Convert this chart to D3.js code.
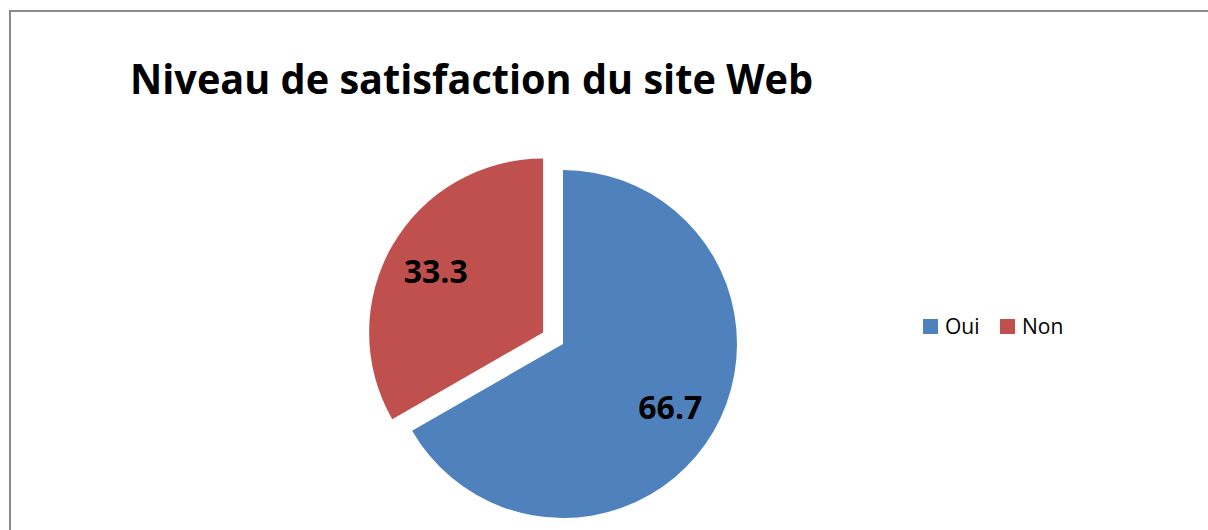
<!DOCTYPE html>
<html>
<head>
<meta charset="utf-8">
<script src="https://cdn.jsdelivr.net/npm/d3@7"></script>
<style>
  body { margin: 0; background: #fff; }
  svg { display: block; font-family: "Open Sans", sans-serif; }
</style>
</head>
<body>
<svg id="chart" width="1208" height="530"></svg>
<script>
var categories = ['Oui', 'Non'];
var values = [66.7, 33.3];
var labels = ['66.7', '33.3'];
var colors = ['#4F81BD', '#C0504D'];
var exploded = [0, 1];

const WIDTH = 1208;
const HEIGHT = 530;
const CX = 563;
const CY = 344;
const RADIUS = 174;
const EXPLODE = 23;

var svg = d3.select('#chart');

// chart frame, cut off at the right and bottom like the picture
svg.append('rect')
    .attr('x', 10)
    .attr('y', 11)
    .attr('width', WIDTH)
    .attr('height', HEIGHT)
    .attr('fill', 'none')
    .attr('stroke', '#8a8a8a')
    .attr('stroke-width', 2);

svg.append('text')
    .attr('x', 130)
    .attr('y', 94)
    .attr('font-size', 41)
    .attr('font-weight', 'bold')
    .attr('textLength', 683)
    .attr('lengthAdjust', 'spacingAndGlyphs')
    .text('Niveau de satisfaction du site Web');

var pie = d3.pie().sort(null).value(function (d) { return d; });
var arcs = pie(values);

var arc = d3.arc().innerRadius(0).outerRadius(RADIUS);
var labelArc = d3.arc().innerRadius(124).outerRadius(124);

var offset = function (d, i) {
    var a = (d.startAngle + d.endAngle) / 2;
    var dist = exploded[i] ? EXPLODE : 0;
    return [CX + Math.sin(a) * dist, CY - Math.cos(a) * dist];
};

var slices = svg.selectAll('g.slice')
    .data(arcs)
    .enter()
    .append('g')
    .classed('slice', true)
    .attr('transform', function (d, i) {
        var p = offset(d, i);
        return 'translate(' + p[0] + ',' + p[1] + ')';
    });

slices.append('path')
    .attr('d', arc)
    .attr('fill', function (d, i) { return colors[i]; });

slices.append('text')
    .attr('transform', function (d) {
        return 'translate(' + labelArc.centroid(d) + ')';
    })
    .attr('text-anchor', 'middle')
    .attr('dy', '0.4em')
    .attr('font-size', 32)
    .attr('font-weight', 'bold')
    .attr('fill', '#000')
    .text(function (d, i) { return labels[i]; });

// legend
var legendX = [923, 1000];
var legend = svg.selectAll('g.legend')
    .data(categories)
    .enter()
    .append('g')
    .classed('legend', true)
    .attr('transform', function (d, i) {
        return 'translate(' + legendX[i] + ',319)';
    });

legend.append('rect')
    .attr('width', 15)
    .attr('height', 15)
    .attr('fill', function (d, i) { return colors[i]; });

legend.append('text')
    .attr('x', 22)
    .attr('y', 15)
    .attr('font-size', 21)
    .attr('fill', '#000')
    .text(function (d) { return d; });
</script>
</body>
</html>
